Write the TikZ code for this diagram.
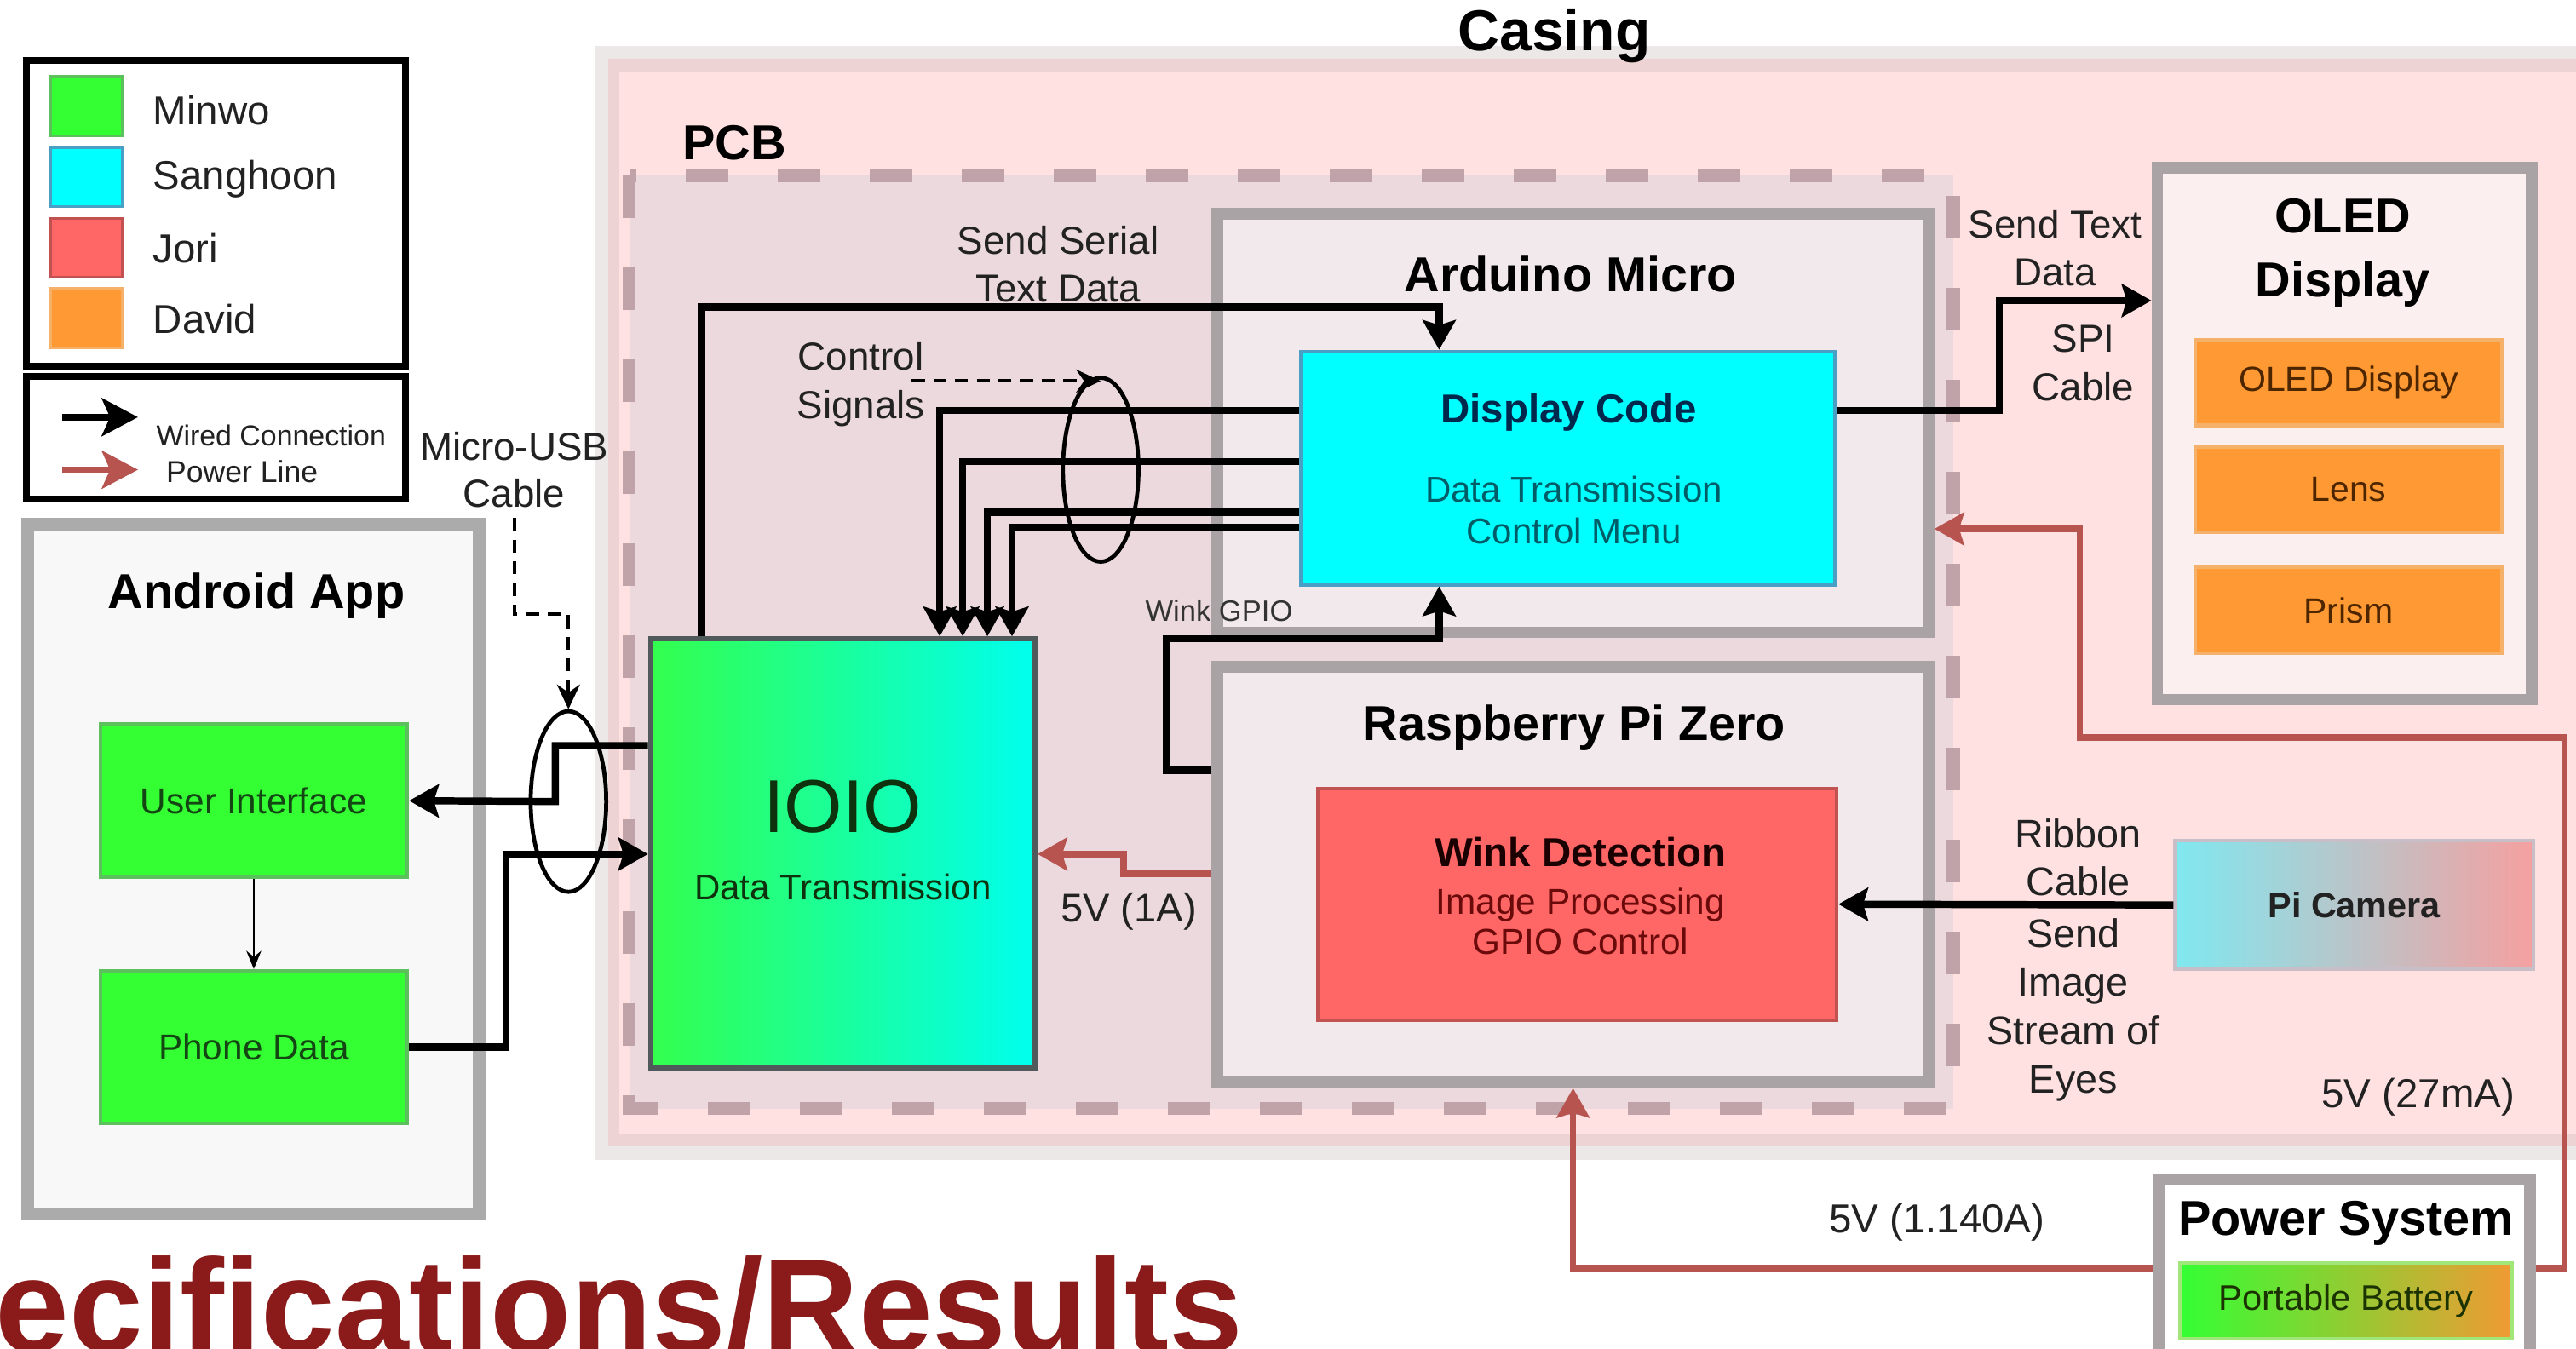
\documentclass[tikz,border=0pt]{standalone}
\usepackage{fontspec}
\setmainfont{Liberation Sans}
\usetikzlibrary{arrows.meta,shapes.geometric}
\newcommand\fsz[2]{\fontsize{#1}{#2}\selectfont}
\definecolor{casegray}{HTML}{ECE8E8}
\definecolor{casering}{HTML}{EDD3D3}
\definecolor{casepink}{HTML}{FFE1E1}
\definecolor{pcbfill}{HTML}{EBD9DE}
\definecolor{pcbdash}{HTML}{BFA3A8}
\definecolor{framegray}{HTML}{A9A3A5}
\definecolor{framefill}{HTML}{F1E9EC}
\definecolor{oledfill}{HTML}{FBEFEF}
\definecolor{appfill}{HTML}{F8F8F8}
\definecolor{appgray}{HTML}{ABABAB}
\definecolor{minwo}{HTML}{33FF33}
\definecolor{minwoedge}{HTML}{5CC05C}
\definecolor{sanghoon}{HTML}{00FFFF}
\definecolor{sanghoonedge}{HTML}{4A9FC4}
\definecolor{jori}{HTML}{FF6666}
\definecolor{joriedge}{HTML}{C25252}
\definecolor{david}{HTML}{FF9933}
\definecolor{davidedge}{HTML}{F5B06A}
\definecolor{powerred}{HTML}{B85450}
\definecolor{titlered}{HTML}{8B1A1A}
\definecolor{ioiogreen}{HTML}{33FF4D}
\definecolor{ioiocyan}{HTML}{00FFEE}
\definecolor{camcyan}{HTML}{80E8F0}
\definecolor{campink}{HTML}{F5A0A0}
\definecolor{battorange}{HTML}{F09A33}
\definecolor{ink}{HTML}{222222}

\begin{document}
\begin{tikzpicture}[x=0.02cm,y=-0.02cm,
  wire/.style={line width=2.5pt,-{Stealth[length=0.36cm,width=0.4cm,inset=0.06cm]}},
  power/.style={draw=powerred,line width=2.2pt,-{Stealth[length=0.36cm,width=0.4cm,inset=0.06cm]}},
  signal/.style={line width=1.2pt,dash pattern=on 4.5pt off 3pt,-{Stealth[length=0.3cm,width=0.28cm]}},
  frame/.style={draw=framegray,line width=4pt,fill=framefill,inner sep=0pt},
  part/.style={line width=1.2pt,inner sep=0pt,align=center},
  bundle/.style={draw,ellipse,line width=1.4pt,inner sep=0pt},
  heading/.style={font=\fsz{17}{21}\bfseries,align=center},
  note/.style={font=\fsz{13.5}{16.6},text=ink,align=center},
  legendbox/.style={draw,line width=2.4pt,fill=white,inner sep=0pt},
  swatch/.style={line width=1pt,draw,minimum width=0.88cm,minimum height=0.72cm,inner sep=0pt},
  legendtext/.style={anchor=west,font=\fsz{14}{16},text=ink}]
\useasboundingbox (0,0) rectangle (1568,821);
\fill[white] (0,0) rectangle (1568,821);

\fill[casegray] (362,28) rectangle (1580,706);
\fill[casering] (370,36) rectangle (1580,698);
\fill[casepink] (377,44) rectangle (1580,690);
\node[font=\fsz{20}{24}\bfseries] (casing) at (946,22) {Casing};

\draw[draw=pcbdash,fill=pcbfill,line width=4.5pt,dash pattern=on 0.52cm off 0.6cm] (383,107) rectangle (1189,675);
\node[font=\fsz{17}{20}\bfseries] (pcb) at (447,87) {PCB};

\node[legendbox,minimum width=4.62cm,minimum height=3.72cm] (members) at (131.5,130) {};
\node[legendbox,minimum width=4.62cm,minimum height=1.50cm] (linekinds) at (131.5,266.5) {};
\node[swatch,fill=minwo,draw=minwoedge] (swMinwo) at (52.7,64.6) {};
\node[swatch,fill=sanghoon,draw=sanghoonedge] (swSanghoon) at (52.7,107.6) {};
\node[swatch,fill=jori,draw=joriedge] (swJori) at (52.7,150.9) {};
\node[swatch,fill=david,draw=davidedge] (swDavid) at (52.7,193.7) {};
\node[legendtext] (txMinwo) at (87,67) {Minwo};
\node[legendtext] (txSanghoon) at (87,109) {Sanghoon};
\node[legendtext] (txJori) at (87,151) {Jori};
\node[legendtext] (txDavid) at (87,194) {David};
\coordinate (wiredA) at (38,254);
\coordinate (wiredB) at (84,254);
\coordinate (powerA) at (38,286);
\coordinate (powerB) at (84,286);
\draw[wire,-{Stealth[length=0.44cm,width=0.46cm,inset=0.1cm]}] (wiredA) -- (wiredB);
\draw[power,-{Stealth[length=0.44cm,width=0.46cm,inset=0.1cm]}] (powerA) -- (powerB);
\node[anchor=west,font=\fsz{10}{12},text=ink] (txWired) at (89,265) {Wired Connection};
\node[anchor=west,font=\fsz{10.5}{12},text=ink] (txPower) at (95,287) {Power Line};

\node[draw=appgray,fill=appfill,line width=4.5pt,inner sep=0pt,minimum width=5.5cm,minimum height=8.4cm] (android) at (154.5,529) {};
\node[heading] (androidTitle) at (156,363) {Android App};
\node[part,draw=minwoedge,fill=minwo,minimum width=3.74cm,minimum height=1.86cm,font=\fsz{12.5}{15},text={rgb,255:red,20;green,70;blue,20}] (ui) at (154.5,487.5) {User Interface};
\node[part,draw=minwoedge,fill=minwo,minimum width=3.74cm,minimum height=1.86cm,font=\fsz{12.5}{15},text={rgb,255:red,20;green,70;blue,20}] (pd) at (154.5,637.5) {Phone Data};

\node[frame,minimum width=8.66cm,minimum height=5.10cm] (arduino) at (957.5,257.5) {};
\node[heading] (arduinoTitle) at (956,167) {Arduino Micro};
\node[part,draw=sanghoonedge,fill=sanghoon,minimum width=6.5cm,minimum height=2.84cm] (dcode) at (954.5,285) {};
\node[font=\fsz{14}{16}\bfseries,text={rgb,255:red,0;green,40;blue,77}] (dcodeTitle) at (955,251) {Display Code};
\node[font=\fsz{12.4}{14.3},text={rgb,255:red,0;green,92;blue,102},align=center] (dcodeText) at (958,310.5) {Data Transmission\\Control Menu};

\node[frame,minimum width=8.66cm,minimum height=5.06cm] (rpi) at (957.5,532.5) {};
\node[heading] (rpiTitle) at (958,443) {Raspberry Pi Zero};
\node[part,draw=joriedge,fill=jori,minimum width=6.32cm,minimum height=2.82cm] (wink) at (960,550.5) {};
\node[font=\fsz{14}{16}\bfseries,text={rgb,255:red,26;green,0;blue,0}] (winkTitle) at (962,519) {Wink Detection};
\node[font=\fsz{12.5}{13.8},text={rgb,255:red,107;green,10;blue,10},align=center] (winkText) at (962,561) {Image Processing\\GPIO Control};

\node[draw={rgb,255:red,80;green,90;blue,90},line width=1.8pt,left color=ioiogreen,right color=ioiocyan,inner sep=0pt,minimum width=4.68cm,minimum height=5.22cm] (ioio) at (513,519.5) {};
\node[font=\fsz{26}{30},text={rgb,255:red,13;green,50;blue,13}] (ioioTitle) at (513,491) {IOIO};
\node[font=\fsz{12.4}{14.3},text={rgb,255:red,13;green,50;blue,13}] (ioioText) at (513,540) {Data Transmission};

\node[frame,fill=oledfill,minimum width=4.56cm,minimum height=6.48cm] (oled) at (1427,264) {};
\node[heading,font=\fsz{17}{22}\bfseries] (oledTitle) at (1426,154) {OLED\\Display};
\node[part,draw=davidedge,fill=david,minimum width=3.74cm,minimum height=1.04cm,font=\fsz{12.1}{14},text={rgb,255:red,77;green,38;blue,0}] (oledPanel) at (1429.5,233) {OLED Display};
\node[part,draw=davidedge,fill=david,minimum width=3.74cm,minimum height=1.04cm,font=\fsz{12.1}{14},text={rgb,255:red,77;green,38;blue,0}] (lens) at (1429.5,298) {Lens};
\node[part,draw=davidedge,fill=david,minimum width=3.74cm,minimum height=1.04cm,font=\fsz{12.1}{14},text={rgb,255:red,77;green,38;blue,0}] (prism) at (1429.5,371.5) {Prism};

\node[part,draw={rgb,255:red,200;green,190;blue,200},left color=camcyan,right color=campink,minimum width=4.36cm,minimum height=1.56cm,font=\fsz{12.2}{14}\bfseries,text=ink] (picam) at (1433,551) {Pi Camera};

\node[frame,fill=white,minimum width=4.52cm,minimum height=2.24cm] (power) at (1427,774) {};
\node[heading] (powerTitle) at (1428,745) {Power System};
\node[part,draw={rgb,255:red,160;green,230;blue,120},left color=minwo,right color=battorange,minimum width=4.04cm,minimum height=0.92cm,font=\fsz{12.3}{14},text={rgb,255:red,26;green,51;blue,0}] (battery) at (1428,792) {Portable Battery};

\draw[wire] (427,0 |- ioio.north) |- (876,187) -- (876,0 |- dcode.north);
\foreach \hy/\vx in {250/572,281/586,312/601,321/616}
  \draw[wire] (dcode.west |- 0,\hy) -| (\vx,0 |- ioio.north);
\node[bundle,minimum width=0.92cm,minimum height=2.24cm] (ctrlBundle) at (670,286) {};
\coordinate (ctrlStart) at (555,232);
\draw[signal] (ctrlStart) -- (ctrlStart -| ctrlBundle.north);
\draw[wire] (rpi.west |- 0,469) -| (710,389) -| (876,0 |- dcode.south);
\draw[wire] (dcode.east |- 0,250) -| (1217,183) -- (oled.west |- 0,183);
\draw[wire] (picam.west) -- (wink.east);
\draw[wire] (ioio.west |- 0,454) -| (338,488) -- (ui.east);
\draw[wire] (pd.east) -| (308,520) -- (ioio.west |- 0,520);
\draw[line width=0.8pt,-{Stealth[length=0.22cm,width=0.18cm]}] (ui.south) -- (pd.north);
\node[bundle,minimum width=0.92cm,minimum height=2.2cm] (usbBundle) at (346,488) {};
\node[note,font=\fsz{13.5}{16.4}] (usb) at (313,286) {Micro-USB\\Cable};
\draw[signal] (usb.south) |- (346,374) -- (usbBundle.north);

\draw[power] (rpi.west |- 0,532) -- (684,532) -- (684,520) -- (ioio.east |- 0,520);
\draw[power] (power.west |- 0,772) -| (rpi.south);
\draw[power] (power.east |- 0,772) -| (1561,449) -| (1266,322) -- (arduino.east |- 0,322);

\node[note] (serialNote) at (644,161) {Send Serial\\Text Data};
\node[note] (ctrlNote) at (524,234) {Control\\Signals};
\node[font=\fsz{10.2}{12},text={rgb,255:red,51;green,51;blue,51}] (gpioNote) at (742,372) {Wink GPIO};
\node[note] (textNote) at (1251,151) {Send Text\\Data};
\node[note] (spiNote) at (1268,221) {SPI\\Cable};
\node[note,font=\fsz{13.9}{16}] (oneAmp) at (687,555) {5V (1A)};
\node[note,font=\fsz{13.8}{16.6}] (ribbonNote) at (1265,522) {Ribbon\\Cable};
\node[note,font=\fsz{13.8}{16.8}] (streamNote) at (1262,615) {Send\\Image\\Stream of\\Eyes};
\node[note,font=\fsz{14}{16}] (oledAmp) at (1472,668) {5V (27mA)};
\node[note,font=\fsz{14}{16}] (piAmp) at (1179,744) {5V (1.140A)};

\node[anchor=base west,inner sep=0pt,font=\fsz{46}{50}\bfseries,text=titlered] (banner) at (-3,823) {ecifications/Results};
\end{tikzpicture}
\end{document}
